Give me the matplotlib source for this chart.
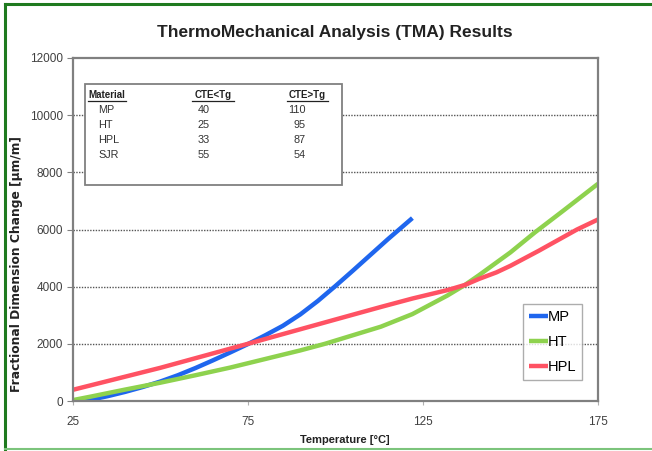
import matplotlib
matplotlib.use("Agg")
import matplotlib.pyplot as plt
from matplotlib.lines import Line2D
from matplotlib.patches import Rectangle
from matplotlib import font_manager as fm

names = {f.name for f in fm.fontManager.ttflist}
NARROW = "Liberation Sans Narrow" if "Liberation Sans Narrow" in names else "Liberation Sans"
plt.rcParams['font.family'] = [NARROW, 'DejaVu Sans']

# ---- data ----
mp_t = [25, 30, 35, 40, 45, 50, 55, 60, 65, 70, 75, 80, 85, 90, 95, 100, 105, 110, 115, 122]
mp_v = [-60, 40, 170, 320, 490, 680, 900, 1150, 1420, 1700, 1990, 2300, 2630, 3030, 3500,
        4020, 4560, 5110, 5660, 6400]

ht_t = [25, 30, 40, 50, 60, 70, 80, 90, 97, 105, 113, 122, 132, 137, 141, 150, 157, 165, 175]
ht_v = [30, 150, 400, 640, 900, 1170, 1470, 1770, 2000, 2300, 2600, 3040, 3690, 4060, 4400,
        5200, 5900, 6650, 7600]

hpl_t = [25, 50, 75, 100, 113, 122, 132, 137, 141, 146, 150, 158, 169, 175]
hpl_v = [390, 1160, 2000, 2850, 3290, 3585, 3880, 4060, 4270, 4500, 4730, 5250, 6000, 6350]

series_names = ["MP", "HT", "HPL"]
series_colors = ["#1F66EE", "#8ED24E", "#FF5263"]

table_header = ["Material", "CTE<Tg", "CTE>Tg"]
table_material = ["MP", "HT", "HPL", "SJR"]
table_cte_below = [40, 25, 33, 55]
table_cte_above = [110, 95, 87, 54]

x_ticks = [25, 75, 125, 175]
y_ticks = [0, 2000, 4000, 6000, 8000, 10000, 12000]

W, H = 652, 451
fig = plt.figure(figsize=(W / 100, H / 100), dpi=100)
fig.patch.set_facecolor("white")

# green frame
fig.add_artist(Line2D([5 / W, 5 / W], [2 / H, 1 - 4 / H], transform=fig.transFigure,
                      color="#1F7A1F", lw=2.2))
fig.add_artist(Line2D([5 / W, 1.0], [1 - 4 / H, 1 - 4 / H], transform=fig.transFigure,
                      color="#1F7A1F", lw=2.2))
fig.add_artist(Line2D([5 / W, 1.0], [2 / H, 2 / H], transform=fig.transFigure,
                      color="#7CC47C", lw=1.5))

L, R, T, B = 72.7, 598, 58, 401
ax = fig.add_axes([L / W, 1 - B / H, (R - L) / W, (B - T) / H])

for t, v, n, c in zip([mp_t, ht_t, hpl_t], [mp_v, ht_v, hpl_v], series_names, series_colors):
    ax.plot(t, v, color=c, lw=3.2, label=n, solid_joinstyle="round", solid_capstyle="butt")

ax.set_xlim(25, 175)
ax.set_ylim(0, 12000)
ax.set_xticks(x_ticks)
ax.set_yticks(y_ticks)
ax.set_xticklabels([str(v) for v in x_ticks])
ax.set_yticklabels([str(v) for v in y_ticks])
ax.tick_params(axis="y", direction="out", length=4, width=0.8, color="#808080",
               labelsize=8.5, labelcolor="#404040", pad=3)
ax.tick_params(axis="x", direction="out", length=3, width=0.8, color="#b0b0b0",
               labelsize=8.5, labelcolor="#404040", pad=8)
for s in ax.spines.values():
    s.set_color("#808080")
    s.set_linewidth(1.6)

for y in y_ticks[1:-1]:
    ax.axhline(y, color="#555555", lw=1.0, ls=(0, (1, 1)), zorder=0.5)

fig.text(345 / W, 1 - 440 / H, "Temperature [°C]", ha="center", va="center",
         fontsize=8, fontweight="bold", color="#222222")
fig.text(17 / W, 1 - 264 / H, "Fractional Dimension Change [µm/m]", rotation=90,
         ha="center", va="center", fontsize=8.8, fontweight="bold", color="#222222",
         family=["DejaVu Sans"])
fig.text(335 / W, 1 - 33 / H, "ThermoMechanical Analysis (TMA) Results", ha="center",
         va="center", fontsize=12.5, fontweight="bold", color="#222222")

leg = ax.legend(loc="lower right", bbox_to_anchor=((582 - L) / (R - L), (B - 380) / (B - T)),
                frameon=True, fancybox=False, fontsize=10.5, handlelength=1.3, handletextpad=0.0,
                labelspacing=0.75, borderpad=0.4, borderaxespad=0)
leg.get_frame().set_edgecolor("#999999")
leg.get_frame().set_linewidth(1.0)
for ln in leg.get_lines():
    ln.set_linewidth(3.2)

# inset table
fx = lambda px: px / W
fy = lambda py: 1 - py / H
fig.add_artist(Rectangle((fx(85), fy(185)), fx(342) - fx(85), fy(84) - fy(185),
                         transform=fig.transFigure, facecolor="white", edgecolor="#808080",
                         lw=1.3, zorder=3))
hdr_y = 95
fig.text(fx(88), fy(hdr_y), table_header[0], ha="left", va="center", fontsize=7,
         fontweight="bold", color="#222222", zorder=4)
fig.text(fx(213), fy(hdr_y), table_header[1], ha="center", va="center", fontsize=7,
         fontweight="bold", color="#222222", zorder=4)
fig.text(fx(307), fy(hdr_y), table_header[2], ha="center", va="center", fontsize=7,
         fontweight="bold", color="#222222", zorder=4)
for x0, x1 in [(88, 126), (192, 234), (287, 328)]:
    fig.add_artist(Line2D([fx(x0), fx(x1)], [fy(101), fy(101)], transform=fig.transFigure,
                          color="#222222", lw=0.9, zorder=4))
row_y = [110, 125, 140, 155]
for yy, m, a, b in zip(row_y, table_material, table_cte_below, table_cte_above):
    fig.text(fx(98), fy(yy), m, ha="left", va="center", fontsize=7.8, color="#333333", zorder=4)
    fig.text(fx(210), fy(yy), str(a), ha="right", va="center", fontsize=7.8, color="#333333", zorder=4)
    fig.text(fx(306), fy(yy), str(b), ha="right", va="center", fontsize=7.8, color="#333333", zorder=4)

fig.savefig("out.png", dpi=100)
